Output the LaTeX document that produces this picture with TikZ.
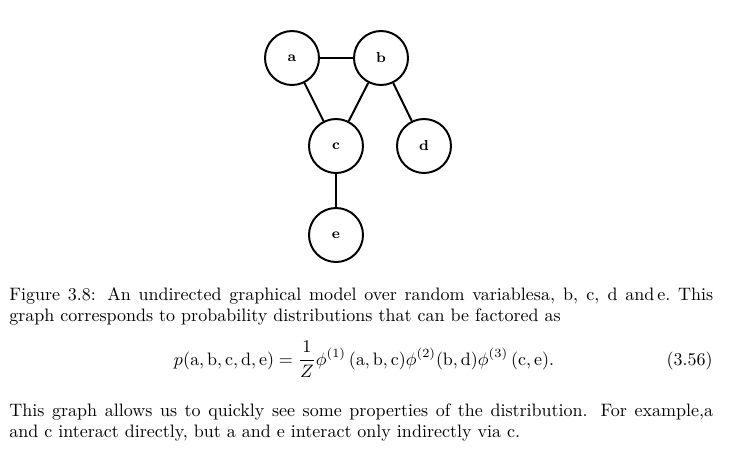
\documentclass[tikz,border=0pt]{standalone}
\begin{document}
\begin{tikzpicture}[x=0.5556pt,y=-0.5556pt,
  var/.style={circle,draw,line width=1.1pt,minimum size=30pt,inner sep=0pt,font=\footnotesize\bfseries},
  edge/.style={line width=1.1pt},
  txt/.style={inner sep=0pt,anchor=base west,font=\normalsize}]
\useasboundingbox (0,0) rectangle (741,453);
\node[var] (a) at (292,58) {a};
\node[var] (b) at (381,58) {b};
\node[var] (c) at (336,146) {c};
\node[var] (d) at (424,146) {d};
\node[var] (e) at (336,235) {e};
\draw[edge] (a) -- (b);
\draw[edge] (a) -- (c);
\draw[edge] (b) -- (c);
\draw[edge] (b) -- (d);
\draw[edge] (c) -- (e);
\node[txt] (l1) at (9,300) {\makebox[391pt][s]{Figure 3.8: An undirected graphical model over random variablesa, b, c, d\ and\,e.\ This}};
\node[txt] (l2) at (9,321) {graph corresponds to probability distributions that can be factored as};
\node[inner sep=0pt,anchor=base] (eq) at (364,365) {$\displaystyle p(\mathrm{a},\mathrm{b},\mathrm{c},\mathrm{d},\mathrm{e})=\frac{1}{Z}\phi^{(1)}\,(\mathrm{a},\mathrm{b},\mathrm{c})\phi^{(2)}(\mathrm{b},\mathrm{d})\phi^{(3)}\,(\mathrm{c},\mathrm{e}).$};
\node[inner sep=0pt,anchor=base east] (num) at (713,365) {(3.56)};
\node[txt] (p1) at (9,416) {\makebox[391pt][s]{This graph allows us to quickly see some properties of the distribution. For example,a}};
\node[txt] (p2) at (9,437) {and c interact directly, but a and e interact only indirectly via c.};
\end{tikzpicture}
\end{document}
